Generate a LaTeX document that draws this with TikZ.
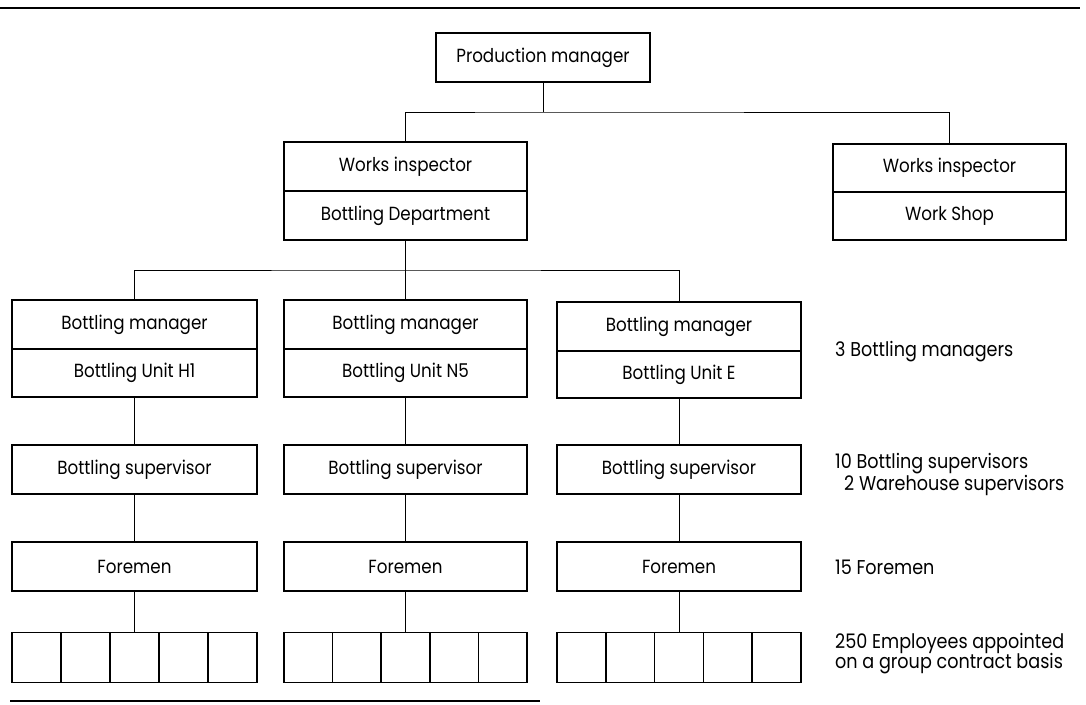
\documentclass[tikz,border=0pt]{standalone}
\usepackage{fontspec}
\setmainfont{Poppins}[FakeStretch=0.88]
\begin{document}
\begin{tikzpicture}[x=1pt,y=-1pt,
  font=\fontsize{19}{22}\selectfont,
  box/.style={draw, line width=1.5pt, inner sep=0pt, anchor=center},
  cell/.style={box, minimum width=49pt, minimum height=50pt},
  link/.style={line width=0.9pt},
  rule/.style={line width=1.8pt},
  note/.style={anchor=west, inner sep=0pt, font=\fontsize{20}{23}\selectfont}]
\useasboundingbox (0,0) rectangle (1086,704);

% rules at top and bottom
\coordinate (rt1) at (0,8);   \coordinate (rt2) at (1080,8);
\coordinate (rb1) at (10,701); \coordinate (rb2) at (540,701);
\draw[rule] (rt1) -- (rt2);
\draw[rule] (rb1) -- (rb2);

% top of the hierarchy
\node[box, minimum width=214pt, minimum height=49pt] (pm) at (543,57.5) {Production manager};

\node[box, minimum width=243pt, minimum height=49pt] (wi1) at (405.5,166.5) {Works inspector};
\node[box, minimum width=243pt, minimum height=49pt] (bd)  at (405.5,215.5) {Bottling Department};

\node[box, minimum width=233pt, minimum height=48pt] (wi2) at (949.5,168) {Works inspector};
\node[box, minimum width=233pt, minimum height=48pt] (ws)  at (949.5,216) {Work Shop};

% bottling units
\node[box, minimum width=245pt, minimum height=49pt] (bmA) at (134.5,324.5) {Bottling manager};
\node[box, minimum width=245pt, minimum height=48pt] (buA) at (134.5,373) {Bottling Unit H1};
\node[box, minimum width=243pt, minimum height=49pt] (bmB) at (405.5,324.5) {Bottling manager};
\node[box, minimum width=243pt, minimum height=48pt] (buB) at (405.5,373) {Bottling Unit N5};
\node[box, minimum width=244pt, minimum height=49pt] (bmC) at (679,326.5) {Bottling manager};
\node[box, minimum width=244pt, minimum height=47pt] (buC) at (679,374.5) {Bottling Unit E};

% supervisors
\node[box, minimum width=245pt, minimum height=49pt] (supA) at (134.5,469.5) {Bottling supervisor};
\node[box, minimum width=243pt, minimum height=49pt] (supB) at (405.5,469.5) {Bottling supervisor};
\node[box, minimum width=244pt, minimum height=49pt] (supC) at (679,469.5) {Bottling supervisor};

% foremen
\node[box, minimum width=245pt, minimum height=49pt] (forA) at (134.5,566.5) {Foremen};
\node[box, minimum width=243pt, minimum height=49pt] (forB) at (405.5,566.5) {Foremen};
\node[box, minimum width=244pt, minimum height=49pt] (forC) at (679,566.5) {Foremen};

% employee groups, five cells each
\foreach \c/\x/\w in {A/134.5/49, B/405.5/48.6, C/679/48.8} {
  \foreach \k in {1,...,5} {
    \node[cell, minimum width=\w pt] (emp\c\k) at ({\x+(\k-3)*\w},657.5) {};
  }
}

% connectors
\coordinate (j1) at (543,112);
\draw[link] (pm.south) -- (j1);
\draw[link] (wi1.north) |- (j1) -| (wi2.north);

\coordinate (j2) at (405.5,270);
\draw[link] (bd.south) -- (j2);
\draw[link] (bmA.north) |- (j2) -| (bmC.north);
\draw[link] (j2) -- (bmB.north);

\foreach \c in {A,B,C} {
  \draw[link] (bu\c.south) -- (sup\c.north);
  \draw[link] (sup\c.south) -- (for\c.north);
  \draw[link] (for\c.south) -- (emp\c3.north);
}

% staff counts
\node[note] (n1) at (835,352) {3 Bottling managers};
\node[note] (n2) at (835,464) {10 Bottling supervisors};
\node[note] (n3) at (844,485) {2 Warehouse supervisors};
\node[note] (n4) at (835,567) {15 Foremen};
\node[note] (n5) at (835,643) {250 Employees appointed};
\node[note] (n6) at (835,664) {on a group contract basis};
\end{tikzpicture}
\end{document}
